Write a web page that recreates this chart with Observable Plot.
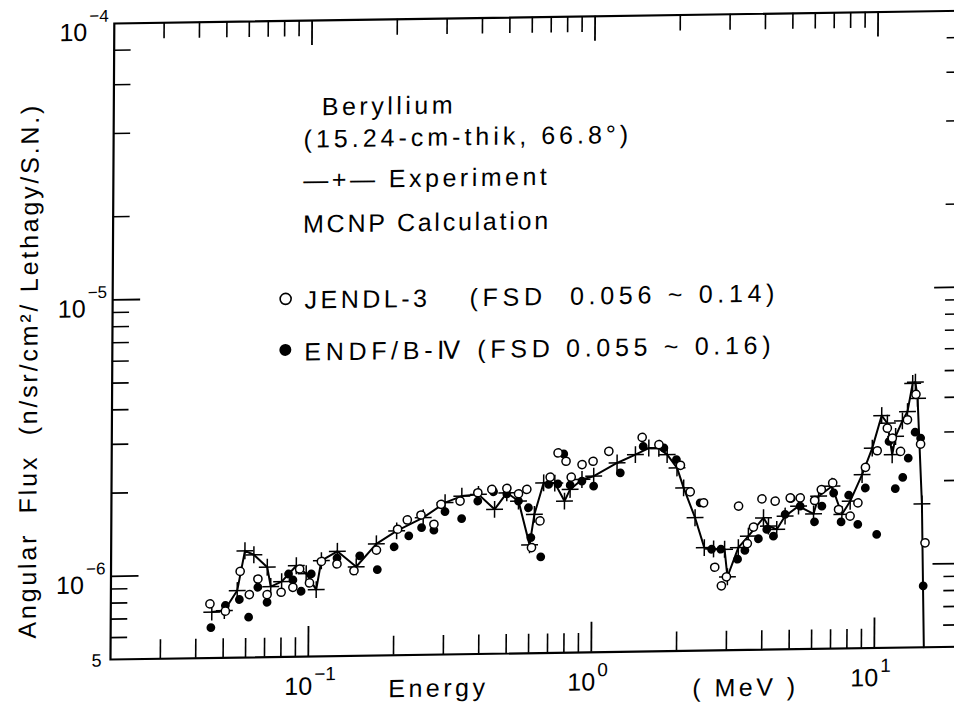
<!DOCTYPE html>
<html>
<head>
<meta charset="utf-8">
<script src="https://cdn.jsdelivr.net/npm/d3@7"></script>
<script src="https://cdn.jsdelivr.net/npm/@observablehq/plot@0.6"></script>
<style>
html, body { margin: 0; padding: 0; background: #fff; overflow: hidden; width: 954px; height: 708px; }
#chart { position: absolute; left: 0; top: 0; width: 962px; }
#chart svg { max-width: none; overflow: visible; transform-origin: 110px 659px; transform: matrix(1, -0.015, -0.006, 1, 0, 0); }
#chart svg text { letter-spacing: 3.5px; font-family: "Liberation Sans", Arial, sans-serif; fill: #000; }
#chart svg g[aria-description="tick-label"] text { letter-spacing: 0px; }
#chart svg g[aria-description="y-title"] text { letter-spacing: 2.8px; }
#chart svg g[aria-description="legend-wide"] text { letter-spacing: 4px; }
#chart svg g[aria-description="legend-tight"] text { letter-spacing: 2.75px; }
#chart svg g[aria-description="legend-fsd"] text { letter-spacing: 4.7px; }
</style>
</head>
<body>
<div id="chart"></div>
<script>
// ---- data: [energy (MeV), angular flux (n/sr/cm^2/lethargy/S.N.)] ----
const experiment = [
  [0.0455,7.33e-7],[0.0504,7.41e-7],[0.0559,8.74e-7],[0.0594,1.216e-6],[0.0639,1.175e-6],
  [0.0713,1.058e-6],[0.0734,9.0e-7],[0.0802,9.36e-7],[0.0903,1.067e-6],[0.0979,9.97e-7],
  [0.1063,8.72e-7],[0.1107,1.109e-6],[0.126,1.197e-6],[0.147,1.05e-6],[0.173,1.268e-6],
  [0.204,1.409e-6],[0.253,1.567e-6],[0.302,1.771e-6],[0.346,1.867e-6],[0.396,1.89e-6],
  [0.452,1.665e-6],[0.499,1.908e-6],[0.549,1.779e-6],[0.602,1.233e-6],[0.625,1.589e-6],
  [0.673,2.064e-6],[0.737,2.056e-6],[0.798,1.768e-6],[0.835,1.947e-6],[0.919,2.112e-6],
  [1.011,2.168e-6],[1.222,2.413e-6],[1.418,2.581e-6],[1.581,2.722e-6],[1.716,2.712e-6],
  [1.836,2.571e-6],[1.991,2.298e-6],[2.103,1.945e-6],[2.311,1.514e-6],[2.495,1.179e-6],
  [2.691,1.165e-6],[2.943,1.16e-6],[3.016,9.22e-7],[3.291,1.174e-6],[3.569,1.291e-6],
  [4.033,1.501e-6],[4.201,1.40e-6],[4.494,1.36e-6],[4.808,1.518e-6],[5.362,1.646e-6],
  [6.06,1.541e-6],[6.31,1.784e-6],[7.03,1.935e-6],[7.63,1.528e-6],[8.16,1.704e-6],
  [8.98,2.124e-6],[9.74,2.645e-6],[10.5,3.465e-6],[11.0,3.248e-6],[11.46,2.497e-6],
  [11.77,2.906e-6],[12.43,3.307e-6],[12.95,3.571e-6],[13.49,4.512e-6],[13.79,4.556e-6],
  [14.05,3.982e-6],[14.63,1.651e-6],[14.96,5.0e-7]
];
const jendl3 = [
  [0.0448,7.85e-7],[0.0508,7.37e-7],[0.0572,1.025e-6],[0.0617,8.44e-7],[0.0661,9.6e-7],
  [0.0713,8.42e-7],[0.0799,8.57e-7],[0.0879,8.92e-7],[0.0928,1.038e-6],[0.1006,9.23e-7],
  [0.1107,1.102e-6],[0.1257,1.077e-6],[0.1444,1.016e-6],[0.1732,1.203e-6],[0.2055,1.428e-6],
  [0.2223,1.541e-6],[0.2484,1.603e-6],[0.2761,1.482e-6],[0.2922,1.748e-6],[0.3412,1.792e-6],
  [0.3941,1.916e-6],[0.4416,1.967e-6],[0.4991,1.98e-6],[0.5488,1.89e-6],[0.5871,1.958e-6],
  [0.6115,1.205e-6],[0.6543,1.503e-6],[0.7096,2.162e-6],[0.7557,2.642e-6],[0.8066,2.463e-6],
  [0.842,2.156e-6],[0.9189,2.392e-6],[1.005,2.455e-6],[1.142,2.662e-6],[1.497,2.977e-6],
  [1.716,2.796e-6],[2.046,2.348e-6],[2.219,1.879e-6],[2.475,1.713e-6],[2.719,1.0e-6],
  [2.872,8.56e-7],[2.991,9.22e-7],[3.291,1.659e-6],[3.54,1.212e-6],[3.718,1.391e-6],
  [3.979,1.757e-6],[4.432,1.721e-6],[5.008,1.765e-6],[5.433,1.763e-6],[6.109,1.722e-6],
  [6.447,1.885e-6],[7.071,1.989e-6],[7.425,1.593e-6],[8.16,1.505e-6],[8.69,1.679e-6],
  [9.222,2.256e-6],[10.14,2.586e-6],[11.0,3.117e-6],[11.46,2.867e-6],[12.26,2.564e-6],
  [12.95,3.333e-6],[13.86,4.117e-6],[14.43,2.718e-6],[15.03,1.194e-6]
];
const endfb4 = [
  [0.0452,6.44e-7],[0.0508,7.73e-7],[0.0569,8.11e-7],[0.0614,6.99e-7],[0.0661,8.96e-7],
  [0.0713,7.9e-7],[0.0848,9.97e-7],[0.0879,9.48e-7],[0.094,8.62e-7],[0.102,9.94e-7],
  [0.1257,1.132e-6],[0.1512,1.15e-6],[0.1746,1.022e-6],[0.2,1.234e-6],[0.2252,1.349e-6],
  [0.2498,1.443e-6],[0.2761,1.41e-6],[0.302,1.643e-6],[0.3459,1.547e-6],[0.3941,1.788e-6],
  [0.4478,1.928e-6],[0.4991,1.892e-6],[0.5488,1.779e-6],[0.5953,1.68e-6],[0.6081,1.31e-6],
  [0.6596,1.114e-6],[0.7007,2.035e-6],[0.7557,2.043e-6],[0.7915,2.618e-6],[0.8353,2.017e-6],
  [0.9189,2.083e-6],[1.011,1.995e-6],[1.255,2.22e-6],[1.51,2.763e-6],[1.787,2.717e-6],
  [1.98,2.463e-6],[2.407,1.713e-6],[2.648,1.162e-6],[2.855,1.161e-6],[3.273,1.066e-6],
  [3.472,1.147e-6],[3.873,1.261e-6],[4.144,1.362e-6],[4.375,1.287e-6],[4.808,1.539e-6],
  [5.049,1.756e-6],[5.433,1.646e-6],[6.109,1.442e-6],[6.483,1.641e-6],[7.13,1.829e-6],
  [7.586,1.437e-6],[8.056,1.792e-6],[8.69,1.404e-6],[9.222,1.899e-6],[10.14,1.288e-6],
  [11.16,2.79e-6],[11.77,1.883e-6],[12.5,2.066e-6],[13.06,2.423e-6],[13.79,3.004e-6],
  [14.43,2.856e-6],[14.84,8.34e-7]
];

// ---- ticks and labels ----
const xMajorTicks = [0.1, 1, 10];
const xMinorTicks = [0.03,0.04,0.05,0.06,0.07,0.08,0.09, 0.2,0.3,0.4,0.5,0.6,0.7,0.8,0.9, 2,3,4,5,6,7,8,9];
const yMajorTicks = [1e-6, 1e-5];
const yMinorTicks = [6e-7,7e-7,8e-7,9e-7, 2e-6,3e-6,4e-6,5e-6,6e-6,7e-6,8e-6,9e-6, 2e-5,4e-5,6e-5,8e-5];
const xTickLabels = [{value: 0.1, base: "10", exp: "\u22121"}, {value: 1, base: "10", exp: "0"}, {value: 10, base: "10", exp: "1"}];
const yTickLabels = [{value: 1e-4, base: "10", exp: "\u22124"}, {value: 1e-5, base: "10", exp: "\u22125"}, {value: 1e-6, base: "10", exp: "\u22126"}];
const yExtraLabels = [{value: 5e-7, text: "5"}];
const xTitle = "Energy";
const xUnit = "( MeV )";
const yTitle = "Angular\u00a0\u00a0Flux\u00a0\u00a0(n/sr/cm\u00b2/ Lethagy/S.N.)";
const legendTitle = ["Beryllium", "(15.24-cm-thik, 66.8\u00b0)"];
const legendExperiment = "\u2014+\u2014 Experiment";
const legendCalc = "MCNP Calculation";
const legendSeries = [
  {name: "JENDL-3", fsd: "(FSD\u00a0 0.056 ~ 0.14)"},
  {name: "ENDF/B-\u2163", fsd: "(FSD 0.055 ~ 0.16)"}
];

// ---- layout ----
const W = 962, H = 708, mL = 110, mR = 3, mT = 23, mB = 49;
const plotW = W - mL - mR, plotH = H - mT - mB;
const FS = 25;

const chart = Plot.plot({
  width: W, height: H,
  marginLeft: mL, marginRight: mR, marginTop: mT, marginBottom: mB,
  style: {background: "white", color: "black"},
  x: {type: "log", domain: [0.02, 20], axis: null},
  y: {type: "log", domain: [5e-7, 1e-4], axis: null},
  marks: [
    // bottom ticks
    Plot.tickX(xMinorTicks, {x: d => d, insetTop: plotH - 19, stroke: "black", strokeWidth: 1.6}),
    Plot.tickX(xMajorTicks, {x: d => d, insetTop: plotH - 30, stroke: "black", strokeWidth: 1.8}),
    // top ticks
    Plot.tickX(xMinorTicks, {x: d => d, insetBottom: plotH - 16, stroke: "black", strokeWidth: 1.6}),
    Plot.tickX(xMajorTicks, {x: d => d, insetBottom: plotH - 25, stroke: "black", strokeWidth: 1.8}),
    // left ticks
    Plot.tickY(yMinorTicks, {y: d => d, insetRight: plotW - 17, stroke: "black", strokeWidth: 1.6}),
    Plot.tickY(yMajorTicks, {y: d => d, insetRight: plotW - 28, stroke: "black", strokeWidth: 1.8}),
    // right ticks
    Plot.tickY(yMinorTicks, {y: d => d, insetLeft: plotW - 16, stroke: "black", strokeWidth: 1.6}),
    Plot.tickY(yMajorTicks, {y: d => d, insetLeft: plotW - 27, stroke: "black", strokeWidth: 1.8}),
    Plot.frame({stroke: "black", strokeWidth: 2.2}),

    // tick labels
    Plot.text(xTickLabels, {x: "value", text: "base", frameAnchor: "bottom", dy: 38, dx: 4, textAnchor: "end", lineAnchor: "bottom", fontSize: FS, ariaDescription: "tick-label"}),
    Plot.text(xTickLabels, {x: "value", text: "exp", frameAnchor: "bottom", dy: 24, dx: 6, textAnchor: "start", lineAnchor: "bottom", fontSize: 19, ariaDescription: "tick-label"}),
    Plot.text(yTickLabels, {y: "value", text: "base", frameAnchor: "left", dx: -27, dy: 17, textAnchor: "end", lineAnchor: "bottom", fontSize: FS, ariaDescription: "tick-label"}),
    Plot.text(yTickLabels, {y: "value", text: "exp", frameAnchor: "left", dx: -25, dy: -2, textAnchor: "start", lineAnchor: "bottom", fontSize: 17, ariaDescription: "tick-label"}),
    Plot.text(yExtraLabels, {y: "value", text: "text", frameAnchor: "left", dx: -9, dy: 7, textAnchor: "end", lineAnchor: "bottom", fontSize: 18, ariaDescription: "tick-label"}),

    // axis titles
    Plot.text([xTitle], {text: d => d, frameAnchor: "bottom-left", dx: 388 - mL, dy: 42, textAnchor: "start", lineAnchor: "bottom", fontSize: FS}),
    Plot.text([xUnit], {text: d => d, frameAnchor: "bottom-left", dx: 692 - mL, dy: 46, textAnchor: "start", lineAnchor: "bottom", fontSize: FS}),
    Plot.text([yTitle], {text: d => d, frameAnchor: "left", dx: 35 - mL, dy: 28, rotate: -90, textAnchor: "middle", lineAnchor: "bottom", fontSize: FS, ariaDescription: "y-title"}),

    // legend
    Plot.text([legendTitle[0]], {text: d => d, frameAnchor: "top-left", dx: 318 - mL, dy: 118 - mT, textAnchor: "start", lineAnchor: "bottom", fontSize: FS}),
    Plot.text([legendTitle[1]], {text: d => d, frameAnchor: "top-left", dx: 300 - mL, dy: 150 - mT, textAnchor: "start", lineAnchor: "bottom", fontSize: FS, ariaDescription: "legend-wide"}),
    Plot.text([legendExperiment], {text: d => d, frameAnchor: "top-left", dx: 300 - mL, dy: 191 - mT, textAnchor: "start", lineAnchor: "bottom", fontSize: FS}),
    Plot.text([legendCalc], {text: d => d, frameAnchor: "top-left", dx: 300 - mL, dy: 235 - mT, textAnchor: "start", lineAnchor: "bottom", fontSize: FS, ariaDescription: "legend-tight"}),
    Plot.dot([legendSeries[0]], {frameAnchor: "top-left", dx: 283 - mL, dy: 301 - mT, r: 5.5, stroke: "black", strokeWidth: 1.6, fill: "white"}),
    Plot.dot([legendSeries[1]], {frameAnchor: "top-left", dx: 283 - mL, dy: 352 - mT, r: 6, fill: "black", stroke: "none"}),
    Plot.text([legendSeries[0]], {text: "name", frameAnchor: "top-left", dx: 302 - mL, dy: 311 - mT, textAnchor: "start", lineAnchor: "bottom", fontSize: FS}),
    Plot.text([legendSeries[0]], {text: "fsd", frameAnchor: "top-left", dx: 467 - mL, dy: 311 - mT, textAnchor: "start", lineAnchor: "bottom", fontSize: FS, ariaDescription: "legend-fsd"}),
    Plot.text([legendSeries[1]], {text: "name", frameAnchor: "top-left", dx: 302 - mL, dy: 363 - mT, textAnchor: "start", lineAnchor: "bottom", fontSize: FS, ariaDescription: "legend-fsd"}),
    Plot.text([legendSeries[1]], {text: "fsd", frameAnchor: "top-left", dx: 475 - mL, dy: 363 - mT, textAnchor: "start", lineAnchor: "bottom", fontSize: FS, ariaDescription: "legend-fsd"}),

    // data
    Plot.line(experiment, {x: d => d[0], y: d => d[1], stroke: "black", strokeWidth: 2}),
    Plot.dot(experiment.slice(0, -1), {x: d => d[0], y: d => d[1], symbol: "plus", r: 5.5, stroke: "black", strokeWidth: 1.5}),
    Plot.dot(endfb4, {x: d => d[0], y: d => d[1], r: 4.4, fill: "black", stroke: "none"}),
    Plot.dot(jendl3, {x: d => d[0], y: d => d[1], r: 4.1, fill: "white", stroke: "black", strokeWidth: 1.5})
  ]
});
document.getElementById("chart").appendChild(chart);
</script>
</body>
</html>
